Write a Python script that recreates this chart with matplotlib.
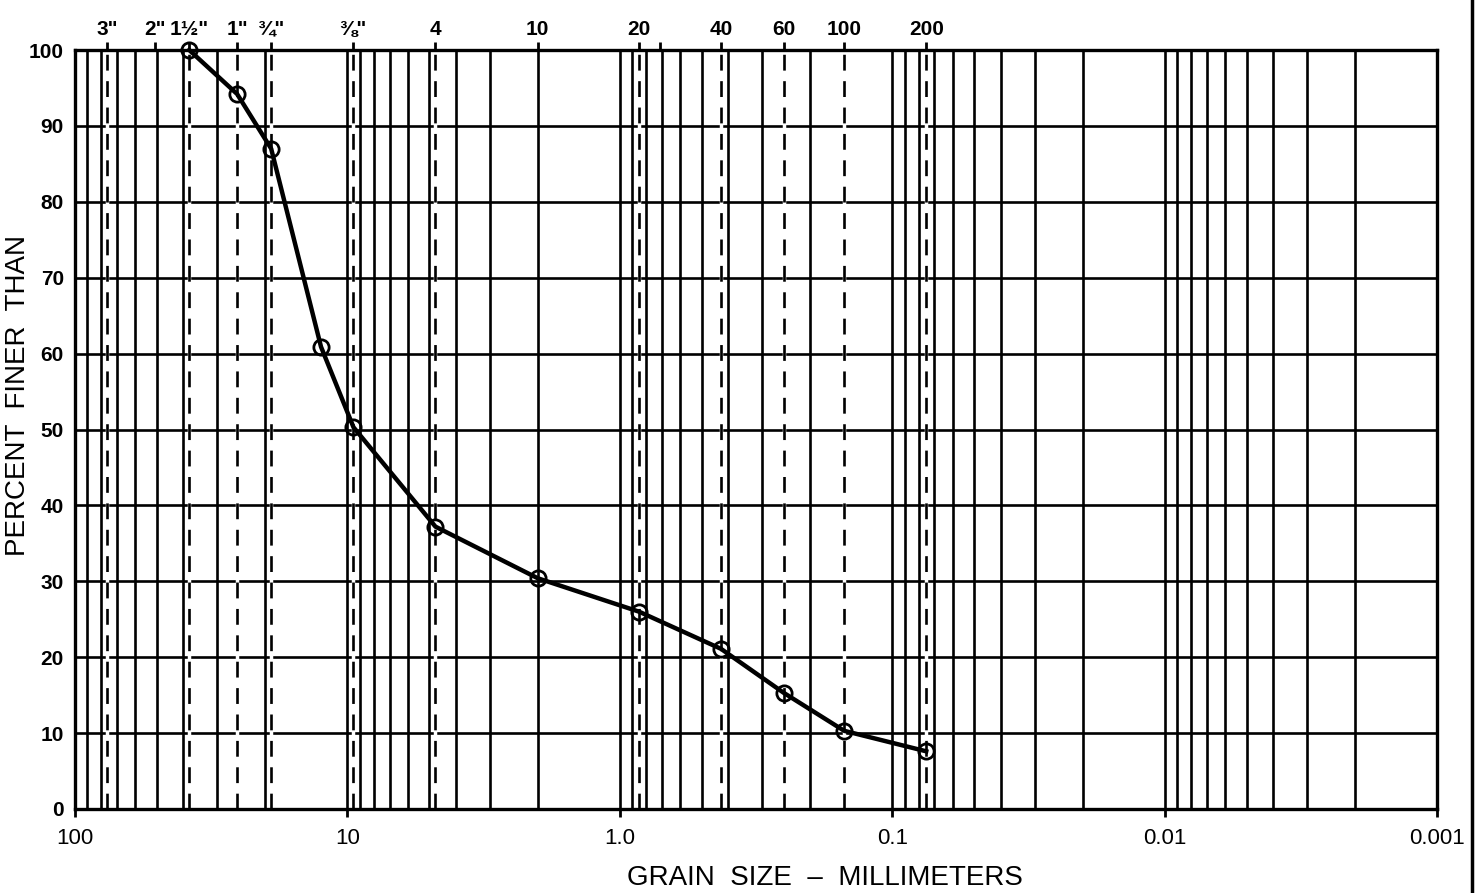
import numpy as np
import matplotlib.pyplot as plt
from matplotlib.lines import Line2D

# Gradation test results
grain_mm = [38.1, 25.4, 19.05, 12.5, 9.5, 4.75, 2.0, 0.85, 0.425, 0.25, 0.15, 0.075]
pct_finer = [100, 94.2, 87.0, 60.9, 50.3, 37.2, 30.4, 26.0, 21.1, 15.3, 10.3, 7.6]

# Sieve openings along the top
sieve_mm = [76.2, 50.8, 38.1, 25.4, 19.05, 9.525, 4.75, 2.0, 0.85, 0.71, 0.425, 0.25, 0.15, 0.075]
sieve_labels = ['3"', '2"', '1½"', '1"', '¾"', '⅜"', '4', '10', '20', '', '40', '60', '100', '200']
dashed_sieves = [76.2, 38.1, 25.4, 19.05, 9.525, 4.75, 0.85, 0.425, 0.25, 0.15, 0.075]

decades = [100, 10, 1.0, 0.1, 0.01, 0.001]
decade_labels = ['100', '10', '1.0', '0.1', '0.01', '0.001']
pct_ticks = list(range(0, 101, 10))

plt.rcParams['font.family'] = ['Liberation Sans', 'DejaVu Sans']

fig = plt.figure(figsize=(14.78, 8.93), dpi=100)
ax = fig.add_axes([75 / 1478, 1 - 809 / 893, (1437 - 75) / 1478, (809 - 50) / 893])

ax.set_xscale('log')
ax.set_xlim(100, 0.001)
ax.set_ylim(0, 100)

# log grid, 1..9 per decade
minor = [m * 10.0 ** e for e in range(-3, 2) for m in range(2, 10)]
ax.set_xticks(decades)
ax.set_xticklabels(decade_labels, fontsize=16)
ax.set_xticks(minor, minor=True)
ax.xaxis.set_minor_formatter(plt.NullFormatter())
ax.tick_params(axis='x', which='major', length=6, width=2, direction='out', pad=8)
ax.tick_params(axis='x', which='minor', length=0)
ax.set_yticks(pct_ticks)
ax.set_yticklabels([str(v) for v in pct_ticks], fontsize=15, fontweight='bold')
ax.tick_params(axis='y', length=0, pad=8)

ax.grid(True, which='both', axis='x', color='black', linewidth=1.9)
ax.grid(True, which='major', axis='y', color='black', linewidth=1.9)
for s in ax.spines.values():
    s.set_linewidth(2.4)

for d in dashed_sieves:
    ax.axvline(d, color='white', linewidth=2.5, zorder=2)
    ax.axvline(d, color='black', linewidth=1.9, linestyle=(0, (6, 4)), zorder=2.1)

ax.plot(grain_mm, pct_finer, color='black', linewidth=3.2, marker='o', markersize=11,
        markerfacecolor='none', markeredgewidth=2.0, zorder=5, clip_on=False)

top = ax.twiny()
top.set_xscale('log')
top.set_xlim(ax.get_xlim())
top.set_xticks(sieve_mm)
top.set_xticklabels(sieve_labels, fontsize=15, fontweight='bold')
top.xaxis.set_minor_locator(plt.NullLocator())
top.tick_params(axis='x', length=6, width=2, direction='out', pad=2)
for s in top.spines.values():
    s.set_visible(False)

fig.text(18 / 1478, 1 - 395 / 893, 'PERCENT  FINER  THAN', rotation=90,
         ha='center', va='center', fontsize=20)
fig.text(825 / 1478, 1 - 878 / 893, 'GRAIN  SIZE  –  MILLIMETERS',
         ha='center', va='center', fontsize=20)

# page border on the right
fig.add_artist(Line2D([1472 / 1478, 1472 / 1478], [0, 1], color='black', linewidth=2.5))

fig.savefig('out.png', dpi=100)
